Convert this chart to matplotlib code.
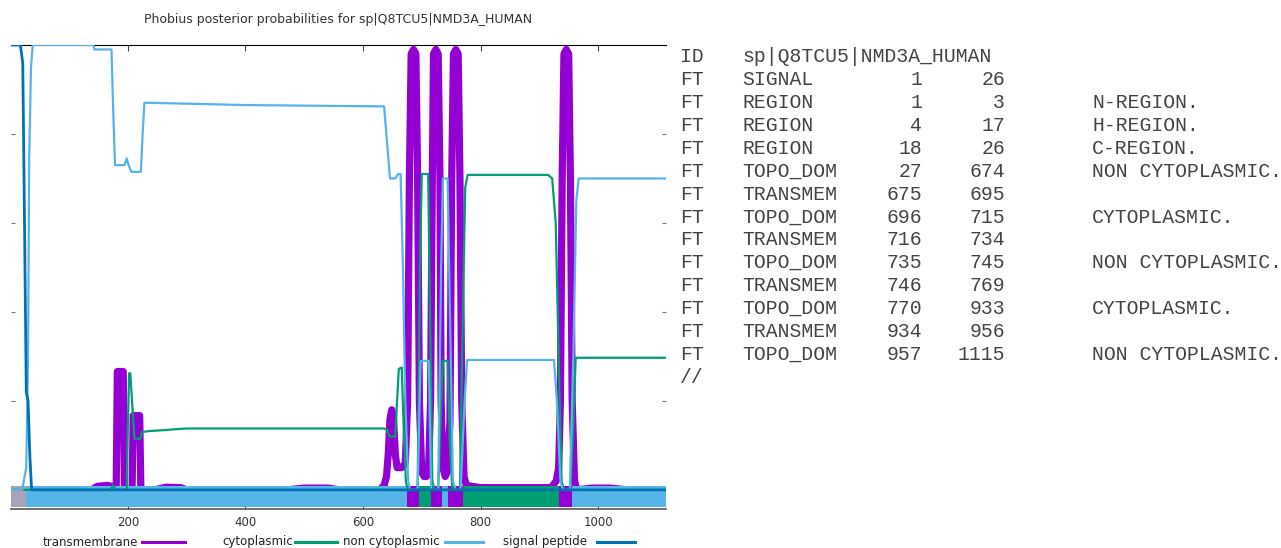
import matplotlib
matplotlib.use("Agg")
import matplotlib.pyplot as plt
from matplotlib.lines import Line2D

W, H = 1281, 548

# posterior probabilities: (residue, probability)
tm_points = [(1, 0), (138, 0), (148, 0.008), (165, 0.01), (172, 0.008), (175, 0.003),
             (180, 0), (182, 0.266), (192, 0.266), (194, 0), (207, 0), (209, 0.167),
             (220, 0.167), (222, 0), (245, 0), (265, 0.006), (290, 0.005), (300, 0),
             (470, 0), (500, 0.004), (540, 0.004), (560, 0), (628, 0), (636, 0.01),
             (640, 0.03), (643, 0.08), (646, 0.16), (649, 0.18), (652, 0.16), (655, 0.08),
             (658, 0.05), (666, 0.05), (672, 0.06), (676, 0.2), (679, 0.7), (682, 0.98),
             (686, 0.99), (690, 0.98), (693, 0.7), (696, 0.2), (700, 0.04), (704, 0.03),
             (708, 0.03), (712, 0.06), (715, 0.2), (718, 0.7), (720, 0.98), (724, 0.99),
             (728, 0.98), (731, 0.7), (733, 0.2), (736, 0.05), (740, 0.03), (743, 0.04),
             (748, 0.15), (751, 0.7), (754, 0.98), (758, 0.99), (762, 0.98), (765, 0.7),
             (768, 0.2), (772, 0.03), (776, 0.01), (800, 0.005), (920, 0.005), (929, 0.02),
             (933, 0.05), (936, 0.2), (939, 0.7), (942, 0.98), (946, 0.99), (950, 0.98),
             (953, 0.7), (956, 0.2), (960, 0.02), (964, 0), (990, 0.004), (1020, 0.004),
             (1050, 0), (1115, 0)]

cyto_points = [(1, 0), (170, 0), (175, 0.01), (179, 0), (198, 0), (200, 0.15), (202, 0.262),
               (204, 0.262), (207, 0.2), (211, 0.115), (221, 0.115), (224, 0.13), (235, 0.132),
               (300, 0.138), (636, 0.138), (641, 0.135), (645, 0.12), (655, 0.12), (658, 0.2),
               (661, 0.272), (666, 0.275), (669, 0.15), (673, 0.02), (676, 0), (693, 0),
               (697, 0.5), (700, 0.71), (711, 0.71), (714, 0.4), (718, 0.02), (722, 0),
               (728, 0), (733, 0.2), (736, 0.29), (744, 0.29), (748, 0.1), (752, 0),
               (765, 0), (770, 0.4), (774, 0.68), (778, 0.708), (915, 0.708), (922, 0.7),
               (928, 0.6), (933, 0.3), (938, 0.02), (942, 0), (953, 0), (958, 0.15),
               (962, 0.297), (1115, 0.297)]

noncyto_points = [(1, 0), (20, 0), (27, 0.05), (30, 0.3), (32, 0.75), (35, 0.95), (38, 1.0),
                  (141, 1.0), (143, 0.99), (172, 0.99), (175, 0.85), (178, 0.73), (194, 0.73),
                  (198, 0.745), (201, 0.73), (206, 0.715), (222, 0.715), (225, 0.8),
                  (228, 0.87), (240, 0.87), (400, 0.865), (636, 0.862), (641, 0.78),
                  (646, 0.70), (655, 0.70), (660, 0.71), (664, 0.71), (668, 0.5), (672, 0.2),
                  (677, 0.02), (680, 0), (693, 0), (698, 0.29), (712, 0.29), (716, 0),
                  (728, 0), (733, 0.5), (736, 0.70), (744, 0.70), (748, 0.4), (753, 0.02),
                  (758, 0), (766, 0), (773, 0.2), (777, 0.292), (925, 0.292), (930, 0.2),
                  (936, 0.02), (940, 0), (952, 0), (958, 0.3), (963, 0.65), (967, 0.70),
                  (1115, 0.70)]

signal_points = [(1, 1.0), (17, 1.0), (21, 0.96), (24, 0.6), (27, 0.22), (30, 0.2),
                 (33, 0.08), (36, 0), (1115, 0)]

# Phobius text output
seq_id = "sp|Q8TCU5|NMD3A_HUMAN"
ft_kind = ["SIGNAL", "REGION", "REGION", "REGION", "TOPO_DOM", "TRANSMEM", "TOPO_DOM",
           "TRANSMEM", "TOPO_DOM", "TRANSMEM", "TOPO_DOM", "TRANSMEM", "TOPO_DOM"]
ft_start = [1, 1, 4, 18, 27, 675, 696, 716, 735, 746, 770, 934, 957]
ft_end = [26, 3, 17, 26, 674, 695, 715, 734, 745, 769, 933, 956, 1115]
ft_note = ["", "N-REGION.", "H-REGION.", "C-REGION.", "NON CYTOPLASMIC.", "",
           "CYTOPLASMIC.", "", "NON CYTOPLASMIC.", "", "CYTOPLASMIC.", "", "NON CYTOPLASMIC."]

xticks = [200, 400, 600, 800, 1000]
legend_labels = ["transmembrane", "cytoplasmic", "non cytoplasmic", "signal peptide"]

purple, green, lblue, dblue = "#9400D3", "#009E73", "#56B4E9", "#0072B2"

fig = plt.figure(figsize=(W / 100, H / 100), dpi=100)
ax = fig.add_axes([11 / W, 39 / H, 654.6 / W, 464 / H])
ax.set_xlim(1, 1115)
ax.set_ylim(-0.043, 1.0)

# topology bar under the curves, built from the feature table
for kind, s, e, note in zip(ft_kind, ft_start, ft_end, ft_note):
    if kind == "TRANSMEM":
        c = purple
    elif kind == "SIGNAL":
        c = "#a7a3b8"
    elif kind == "TOPO_DOM":
        c = lblue if note.startswith("NON") else green
    else:
        continue
    ax.broken_barh([(s - 0.5, e - s + 1)], (-0.038, 0.046), facecolors=c, zorder=3.5)

def xy(points):
    return [p[0] for p in points], [p[1] for p in points]

ax.plot(*xy(tm_points), color=purple, lw=5.2, solid_joinstyle="round",
        solid_capstyle="round", zorder=3)
ax.plot(*xy(cyto_points), color=green, lw=1.6, zorder=4)
ax.plot(*xy(noncyto_points), color=lblue, lw=1.6, zorder=5)
ax.plot(*xy(signal_points), color=dblue, lw=2.0, zorder=6)

for side in ["left", "right"]:
    ax.spines[side].set_visible(False)
ax.spines["top"].set_color("black")
ax.spines["bottom"].set_color("#555555")
ax.spines["bottom"].set_linewidth(1.2)

ax.set_xticks(xticks)
ax.set_xticklabels([str(t) for t in xticks])
ax.tick_params(axis="x", direction="in", length=4, top=True, bottom=True,
               labelsize=8.5, labelcolor="#333333", color="#444444", pad=5)
ax.set_yticks([0.2, 0.4, 0.6, 0.8])
ax.tick_params(axis="y", direction="in", length=3, left=True, right=True,
               labelleft=False, color="#777777")

fig.text(338 / W, 1 - 20 / H, "Phobius posterior probabilities for " + seq_id,
         ha="center", va="center", fontsize=9, color="#333333")

# legend row under the plot
leg_colors = [purple, green, lblue, dblue]
leg_text_right = [138, 293, 440, 587]
leg_line = [(142, 185), (295, 337), (445, 483), (597, 635)]
for lab, c, tx, (x0, x1) in zip(legend_labels, leg_colors, leg_text_right, leg_line):
    fig.text(tx / W, 1 - 542 / H, lab, ha="right", va="center", fontsize=8.5, color="#222222")
    fig.add_artist(Line2D([x0 / W, x1 / W], [1 - 542 / H, 1 - 542 / H], color=c, lw=2.2))

# feature table on the right
mono = dict(family="Liberation Mono", fontsize=14.2, color="#444444", va="center")
row_y = lambda i: 1 - (57 + i * 22.86) / H
fig.text(680 / W, row_y(0), "ID", ha="left", **mono)
fig.text(742 / W, row_y(0), seq_id, ha="left", **mono)
for i, (kind, s, e, note) in enumerate(zip(ft_kind, ft_start, ft_end, ft_note), start=1):
    fig.text(680 / W, row_y(i), "FT", ha="left", **mono)
    fig.text(742 / W, row_y(i), kind, ha="left", **mono)
    fig.text(922 / W, row_y(i), str(s), ha="right", **mono)
    fig.text(1005 / W, row_y(i), str(e), ha="right", **mono)
    if note:
        fig.text(1092 / W, row_y(i), note, ha="left", **mono)
fig.text(680 / W, row_y(len(ft_kind) + 1), "//", ha="left", **mono)

fig.savefig("out.png", dpi=100)
